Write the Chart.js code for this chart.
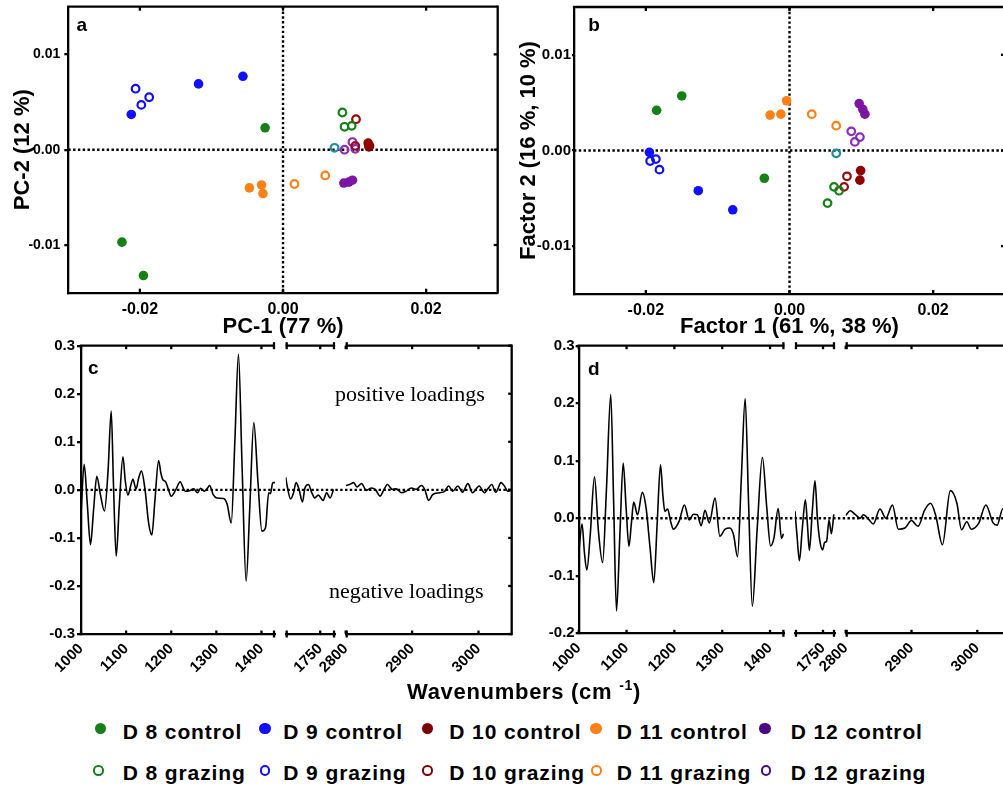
<!DOCTYPE html>
<html><head><meta charset="utf-8">
<script src="https://cdn.jsdelivr.net/npm/chart.js@4.4.1/dist/chart.umd.min.js"></script>
<style>
html,body{margin:0;padding:0;background:#fff;overflow:hidden;}
#wrap{position:relative;width:1003px;height:788px;overflow:hidden;background:#fff;}
canvas{position:absolute;}
.t{position:absolute;white-space:nowrap;line-height:1;color:#000;}
.letter{font:bold 19px "Liberation Sans",Arial,sans-serif;}
.serif{font:22px "Liberation Serif","Times New Roman",serif;}
.xt{font:bold 22px "Liberation Sans",Arial,sans-serif;letter-spacing:0.7px;}
.leg{font:bold 21px "Liberation Sans",Arial,sans-serif;letter-spacing:0.9px;}
.mk{position:absolute;border-radius:50%;box-sizing:border-box;}
</style></head>
<body><div id="wrap">
<canvas id="ca" width="512" height="340" style="left:0;top:0"></canvas>
<canvas id="cb" width="520" height="340" style="left:510px;top:0"></canvas>
<canvas id="cc" width="522" height="358" style="left:0;top:330px"></canvas>
<canvas id="cd" width="510" height="358" style="left:510px;top:330px"></canvas>
<div class="t letter" style="left:76.5px;top:14px">a</div>
<div class="t letter" style="left:588.3px;top:14px">b</div>
<div class="t letter" style="left:88px;top:357px">c</div>
<div class="t letter" style="left:588px;top:358px">d</div>
<div class="t serif" style="left:335px;top:380.6px">positive loadings</div>
<div class="t serif" style="left:329px;top:578.3px">negative loadings</div>
<div class="t xt" style="left:407px;top:678.7px">Wavenumbers (cm <span style="font-size:14px;position:relative;top:-9px">-1</span>)</div>
<div id="legend"></div>
</div>
<script>
// ---------------- data ----------------
const groupNames = ['D 8 control','D 9 control','D 10 control','D 11 control','D 12 control',
                    'D 8 grazing','D 9 grazing','D 10 grazing','D 11 grazing','D 12 grazing'];

// Panel a: PCA scores [PC-1, PC-2]
const pcaD8Control  = [[-0.0025, 0.0023], [-0.0225, -0.0097], [-0.0195, -0.0132]];
const pcaD9Control  = [[-0.0056, 0.0077], [-0.0118, 0.0069], [-0.0212, 0.0037]];
const pcaD10Control = [[0.0119, 0.0007], [0.0120, 0.0003], [0.0121, 0.0004]];
const pcaD11Control = [[-0.0047, -0.0040], [-0.0030, -0.0037], [-0.0028, -0.0046]];
const pcaD12Control = [[0.0085, -0.0035], [0.0092, -0.0034], [0.0097, -0.0032]];
const pcaD8Grazing  = [[0.0083, 0.0039], [0.0086, 0.0024], [0.0096, 0.0025]];
const pcaD9Grazing  = [[-0.0206, 0.0064], [-0.0198, 0.0047], [-0.0187, 0.0055]];
const pcaD10Grazing = [[0.0102, 0.0032], [0.0101, 0.0004]];
const pcaD11Grazing = [[0.0016, -0.0036], [0.0059, -0.0027]];
const pcaD12Grazing = [[0.0097, 0.0008], [0.0086, 0.0000], [0.0101, 0.0001]];
const pcaOther      = [[0.0072, 0.0002]];

// Panel b: factor scores [Factor 1, Factor 2]
const faD8Control  = [[-0.0185, 0.0042], [-0.0150, 0.0057], [-0.0035, -0.0029]];
const faD9Control  = [[-0.0195, -0.0002], [-0.0127, -0.0042], [-0.0079, -0.0062]];
const faD10Control = [[0.0099, -0.0021], [0.0098, -0.0031]];
const faD11Control = [[-0.0027, 0.0037], [-0.0012, 0.0038], [-0.0004, 0.0052]];
const faD12Control = [[0.0097, 0.0049], [0.0102, 0.0043], [0.0105, 0.0038]];
const faD8Grazing  = [[0.0062, -0.0038], [0.0069, -0.0042], [0.0053, -0.0055]];
const faD9Grazing  = [[-0.0194, -0.0011], [-0.0186, -0.0009], [-0.0181, -0.0020]];
const faD10Grazing = [[0.0080, -0.0027], [0.0076, -0.0038]];
const faD11Grazing = [[0.0031, 0.0038], [0.0065, 0.0026]];
const faD12Grazing = [[0.0086, 0.0020], [0.0098, 0.0014], [0.0091, 0.0009]];
const faOther      = [[0.0065, -0.0003]];

// Panel c: PC-1 loadings, three wavenumber ranges
const wnC1 = [1000,1007,1014,1021,1028,1035,1043,1052,1060,1067,1072,1078,1085,1093,1098,1104,1110,1115,1122,1128,1134,1142,1150,1157,1164,1172,1177,1181,1188,1194,1200,1210,1220,1226,1231,1240,1250,1258,1265,1273,1280,1285,1293,1301,1316,1324,1333,1341,1349,1357,1366,1374,1383,1392,1401,1409,1416,1420,1425,1430];
const ldC1 = [-0.050,0.053,-0.030,-0.114,-0.040,0.028,-0.010,-0.044,0.040,0.164,0.010,-0.138,-0.030,0.069,0.020,-0.011,0.008,0.022,0.002,0.025,0.039,0.000,-0.070,-0.094,-0.020,0.061,0.035,0.022,0.016,0.000,-0.013,0.000,0.017,0.005,-0.003,-0.002,0.002,-0.006,0.003,-0.003,0.003,0.009,-0.010,-0.017,-0.018,-0.030,-0.069,0.100,0.282,0.050,-0.190,-0.040,0.140,0.020,-0.086,-0.079,-0.006,-0.008,0.015,0.015];
const wnC2 = [1680,1683,1690,1696,1701,1707,1714,1719,1726,1733,1739,1746,1756,1763,1770,1777];
const ldC2 = [0.026,0.008,-0.019,-0.006,0.015,0.001,-0.025,0.004,0.011,-0.006,-0.017,-0.011,-0.022,-0.006,-0.017,0.001];
const wnC3 = [2800,2806,2812,2817,2824,2831,2839,2845,2852,2856,2863,2870,2876,2884,2891,2899,2906,2914,2919,2925,2931,2941,2949,2955,2961,2969,2976,2984,2991,3001,3009,3014,3020,3026,3034,3039,3044,3049];
const ldC3 = [0.009,0.011,0.015,0.006,0.013,-0.001,0.004,0.000,-0.013,-0.004,0.011,0.001,0.002,-0.006,-0.003,0.004,0.001,0.009,0.001,-0.022,-0.010,-0.006,-0.003,0.008,-0.003,0.008,-0.005,0.013,-0.006,0.008,-0.006,0.002,0.011,-0.005,0.015,0.008,-0.003,-0.001];

// Panel d: Factor 1 loadings
const wnD1 = [1000,1007,1012,1017,1024,1033,1041,1050,1058,1067,1073,1079,1086,1093,1099,1105,1110,1115,1123,1133,1141,1149,1157,1164,1171,1176,1180,1186,1192,1198,1210,1221,1231,1240,1248,1256,1264,1273,1285,1295,1306,1316,1324,1332,1340,1348,1355,1363,1373,1384,1393,1401,1408,1417,1424,1428];
const ldD1 = [-0.061,-0.010,-0.060,-0.090,-0.030,0.072,-0.020,-0.077,0.050,0.215,0.030,-0.161,-0.030,0.096,0.020,-0.049,-0.010,0.028,0.006,0.045,0.017,-0.050,-0.112,-0.010,0.093,0.040,0.012,0.016,-0.005,-0.019,-0.005,0.023,-0.003,0.007,0.006,-0.013,0.014,-0.008,0.035,-0.031,-0.019,-0.017,-0.030,-0.067,0.070,0.208,0.030,-0.153,-0.020,0.106,0.020,-0.048,-0.035,0.017,-0.035,-0.027];
const wnD2 = [1680,1685,1691,1698,1706,1711,1716,1723,1730,1736,1742,1749,1754,1759,1765,1771,1777];
const ldD2 = [0.012,-0.030,-0.074,-0.020,0.032,-0.010,-0.056,0.010,0.065,0.000,-0.039,-0.055,-0.042,-0.040,-0.003,-0.027,0.007];
const wnD3 = [2800,2807,2814,2822,2827,2835,2842,2852,2861,2871,2880,2890,2900,2910,2920,2929,2937,2947,2959,2969,2976,2984,2991,3002,3013,3024,3030,3039,3048];
const ldD3 = [0.005,0.013,0.007,0.000,0.006,-0.002,-0.010,0.016,0.000,0.023,-0.019,-0.017,-0.004,-0.014,0.014,0.026,0.004,-0.046,0.048,0.026,-0.020,-0.006,-0.019,-0.009,0.023,-0.008,-0.012,0.017,0.010];

// tick values
const scoreTicksX = [-0.02, 0, 0.02];
const scoreTicksY = [-0.01, 0, 0.01];
const loadTicksC = [-0.3, -0.2, -0.1, 0, 0.1, 0.2, 0.3];
const loadTicksD = [-0.2, -0.1, 0, 0.1, 0.2, 0.3];
const seg1Ticks = [1000, 1100, 1200, 1300, 1400];
const seg2Ticks = [1750];
const seg3Ticks = [2800, 2900, 3000];
const seg1Range = [1000, 1430], seg2Range = [1680, 1780], seg3Range = [2800, 3050];

// ---------------- styles ----------------
const FONT = '"Liberation Sans", Arial, sans-serif';
const plotColors = ['#158015', '#1010ff', '#8e0000', '#ff8016', '#7c16a3'];
const plotColorsOpen = ['#158015', '#1010ff', '#9a0a0a', '#ff8016', '#8a2cbc'];
const legendColors = ['#158015', '#1010ff', '#7a0000', '#ff8016', '#4a0a84'];
const otherColor = '#1c8aa8';
const LW = 2.3;

function pairs(arr) { return arr.map(p => ({x: p[0], y: p[1]})); }
function zip(xs, ys) { return xs.map((x, i) => ({x: x, y: ys[i]})); }

function scatterSets(ctrl, graz, other) {
  const sets = [];
  graz.forEach((g, i) => sets.push({label: groupNames[5 + i], data: pairs(g), pointRadius: 3.8, pointBorderWidth: 2.2,
    pointBackgroundColor: 'rgba(0,0,0,0)', pointBorderColor: plotColorsOpen[i], showLine: false}));
  sets.push({label: 'other', data: pairs(other), pointRadius: 3.8, pointBorderWidth: 2.2,
    pointBackgroundColor: 'rgba(0,0,0,0)', pointBorderColor: otherColor, showLine: false});
  ctrl.forEach((g, i) => sets.push({label: groupNames[i], data: pairs(g), pointRadius: 4.8, pointBorderWidth: 0,
    pointBackgroundColor: plotColors[i], pointBorderColor: plotColors[i], showLine: false}));
  return sets;
}

const fixedTicks = vals => s => { s.ticks = vals.map(v => ({value: v})); };
const fitW = w => s => { s.width = w; s.paddingTop = 0; s.paddingBottom = 0; };
const fitH = h => s => { s.height = h; s.paddingLeft = 0; s.paddingRight = 0; };

const zeroPlugin = {
  id: 'zeroLines',
  beforeDatasetsDraw(chart, args, o) {
    const {ctx, chartArea: a} = chart;
    const ys = chart.scales.y;
    ctx.save();
    ctx.strokeStyle = '#000'; ctx.lineWidth = 2.4; ctx.setLineDash([2.4, 2.4]);
    const py = ys.getPixelForValue(0);
    ctx.beginPath(); ctx.moveTo(a.left, py); ctx.lineTo(a.right, py); ctx.stroke();
    if (o.vertical) {
      const px = chart.scales.x.getPixelForValue(0);
      ctx.beginPath(); ctx.moveTo(px, a.top); ctx.lineTo(px, a.bottom); ctx.stroke();
    }
    ctx.restore();
  }
};

const framePlugin = {
  id: 'frame',
  afterDatasetsDraw(chart, args, o) {
    const {ctx, chartArea: a} = chart;
    ctx.save();
    ctx.strokeStyle = '#000'; ctx.lineWidth = LW; ctx.lineCap = 'butt';
    const seg = (x1, y1, x2, y2) => { ctx.beginPath(); ctx.moveTo(x1, y1); ctx.lineTo(x2, y2); ctx.stroke(); };
    seg(a.right, a.top - LW / 2, a.right, a.bottom + LW / 2);
    const ys = chart.scales.y;
    ys.ticks.forEach(t => { const py = ys.getPixelForValue(t.value); seg(a.right - o.tick, py, a.right, py); });
    o.xIds.forEach((id, i) => {
      const s = chart.scales[id];
      seg(s.left - (i === 0 ? LW / 2 : 0), a.top, s.right, a.top);
      s.ticks.forEach(t => {
        const px = s.getPixelForValue(t.value);
        seg(px, a.top, px, a.top + o.tick);
        seg(px, a.bottom, px, a.bottom - o.tick);
      });
      if (o.breaks) {
        const ends = [];
        if (i > 0) ends.push(s.left + 1);
        if (i < o.xIds.length - 1) ends.push(s.right - 1);
        ends.forEach(px => { seg(px, a.top - o.bar, px, a.top + o.bar); seg(px, a.bottom - o.bar, px, a.bottom + o.bar); });
      }
    });
    ctx.restore();
  }
};

const axisBorder = {display: true, color: '#000', width: LW};
const yGrid = tl => ({display: true, drawOnChartArea: false, drawTicks: true, tickLength: tl, color: '#000', lineWidth: LW});
const noGrid = {display: false, drawTicks: false};
const tickFont = sz => ({family: FONT, weight: 'bold', size: sz});
const titleFont = {family: FONT, weight: 'bold', size: 22};

function scoreChart(id, sets, o) {
  return new Chart(document.getElementById(id), {
    type: 'scatter',
    data: {datasets: sets},
    plugins: [zeroPlugin, framePlugin],
    options: {
      responsive: false, animation: false, devicePixelRatio: 1,
      layout: {autoPadding: false, padding: {left: 0, top: o.top, right: o.right, bottom: 0}},
      plugins: {legend: {display: false}, tooltip: {enabled: false},
        zeroLines: {vertical: true}, frame: {xIds: ['x'], breaks: false, tick: 4}},
      scales: {
        x: {type: 'linear', position: 'bottom', min: -0.03, max: 0.03,
          afterBuildTicks: fixedTicks(scoreTicksX), afterFit: fitH(o.xh),
          border: axisBorder, grid: noGrid,
          ticks: {color: '#000', font: tickFont(16), padding: 7, maxRotation: 0, autoSkip: false, callback: v => v.toFixed(2)},
          title: {display: true, text: o.xTitle, color: '#000', font: titleFont, padding: {top: 0, bottom: 0}}},
        y: {type: 'linear', position: 'left', min: -0.015, max: 0.015,
          afterBuildTicks: fixedTicks(scoreTicksY), afterFit: fitW(o.yw),
          border: axisBorder, grid: yGrid(o.ytl),
          ticks: {color: '#000', font: tickFont(o.yfs), padding: o.ypad, autoSkip: false, callback: v => v.toFixed(2)},
          title: {display: true, text: o.yTitle, color: '#000', font: titleFont, padding: {top: o.ytp, bottom: 0}}}
      }
    }
  });
}

scoreChart('ca', scatterSets(
  [pcaD8Control, pcaD9Control, pcaD10Control, pcaD11Control, pcaD12Control],
  [pcaD8Grazing, pcaD9Grazing, pcaD10Grazing, pcaD11Grazing, pcaD12Grazing], pcaOther),
  {top: 6.7, right: 14.3, xh: 47.3, yw: 68.3, ytl: 4, ypad: 4, yfs: 14, ytp: 10, xTitle: 'PC-1 (77 %)', yTitle: 'PC-2 (12 %)'});

scoreChart('cb', scatterSets(
  [faD8Control, faD9Control, faD10Control, faD11Control, faD12Control],
  [faD8Grazing, faD9Grazing, faD10Grazing, faD11Grazing, faD12Grazing], faOther),
  {top: 7, right: 25, xh: 46, yw: 64, ytl: 2, ypad: 1, yfs: 15, ytp: 5.4, xTitle: 'Factor 1 (61 %, 38 %)', yTitle: 'Factor 2 (16 %, 10 %)'});

function loadingChart(id, segs, o) {
  const xAxis = (range, ticks, w) => ({type: 'linear', axis: 'x', position: 'bottom', stack: 'wn', stackWeight: w,
    min: range[0], max: range[1], afterBuildTicks: fixedTicks(ticks), afterFit: fitH(o.xh),
    border: axisBorder, grid: noGrid,
    ticks: {color: '#000', font: tickFont(15), padding: 6, minRotation: 45, maxRotation: 45, autoSkip: false, callback: v => String(v)}});
  const gapAxis = w => ({type: 'linear', axis: 'x', position: 'bottom', stack: 'wn', stackWeight: w, min: 0, max: 1,
    afterFit: fitH(o.xh), border: {display: false}, grid: noGrid, ticks: {display: false}});
  return new Chart(document.getElementById(id), {
    type: 'line',
    data: {datasets: segs.map((s, i) => ({data: zip(s[0], s[1]), xAxisID: 'x' + (i + 1), yAxisID: 'y',
      borderColor: '#000', borderWidth: 1.6, pointRadius: 0, cubicInterpolationMode: 'monotone', fill: false}))},
    plugins: [zeroPlugin, framePlugin],
    options: {
      responsive: false, animation: false, devicePixelRatio: 1,
      layout: {autoPadding: false, padding: {left: 0, top: o.top, right: o.right, bottom: 0}},
      plugins: {legend: {display: false}, tooltip: {enabled: false},
        zeroLines: {vertical: false}, frame: {xIds: ['x1', 'x2', 'x3'], breaks: true, tick: 3.5, bar: 3.5}},
      scales: {
        y: {type: 'linear', position: 'left', min: o.ymin, max: o.ymax,
          afterBuildTicks: fixedTicks(o.yTicks), afterFit: fitW(o.yw),
          border: axisBorder, grid: yGrid(o.ytl),
          ticks: {color: '#000', font: tickFont(15), padding: o.ypad, autoSkip: false, callback: v => v.toFixed(1)}},
        x1: xAxis(seg1Range, seg1Ticks, o.w[0]),
        g1: gapAxis(o.w[1]),
        x2: xAxis(seg2Range, seg2Ticks, o.w[2]),
        g2: gapAxis(o.w[3]),
        x3: xAxis(seg3Range, seg3Ticks, o.w[4])
      }
    }
  });
}

loadingChart('cc', [[wnC1, ldC1], [wnC2, ldC2], [wnC3, ldC3]],
  {top: 15.7, right: 10.3, xh: 54, yw: 81, ytl: 4, ypad: 2, ymin: -0.3, ymax: 0.3, yTicks: loadTicksC,
   w: [194, 10.7, 49.3, 10.7, 166]});
loadingChart('cd', [[wnD1, ldD1], [wnD2, ldD2], [wnD3, ldD3]],
  {top: 15.7, right: 9.8, xh: 54.7, yw: 68.7, ytl: 3, ypad: 1, ymin: -0.2, ymax: 0.3, yTicks: loadTicksD,
   w: [205.7, 10.6, 40, 10.7, 164.5]});

// ---------------- legend (HTML) ----------------
const legMarkerX = [[100.5, 265, 427.3, 596, 765], [98.3, 265, 427.3, 596.7, 766]];
const legTextX = [122.7, 283.3, 449.3, 616.7, 790.7];
const legRowCenter = [728.7, 770.5];
const legRowTextTop = [719.5, 760.5];
const leg = document.getElementById('legend');
groupNames.forEach((name, k) => {
  const row = k < 5 ? 0 : 1, col = k % 5;
  const m = document.createElement('div');
  m.className = 'mk';
  const d = row === 0 ? 11.5 : 10.5;
  m.style.width = d + 'px'; m.style.height = d + 'px';
  m.style.left = (legMarkerX[row][col] - d / 2) + 'px';
  m.style.top = (legRowCenter[row] - d / 2) + 'px';
  if (row === 0) m.style.background = legendColors[col];
  else m.style.border = '2.6px solid ' + legendColors[col];
  leg.appendChild(m);
  const t = document.createElement('div');
  t.className = 't leg';
  t.style.left = legTextX[col] + 'px';
  t.style.top = legRowTextTop[row] + 'px';
  t.textContent = name;
  leg.appendChild(t);
});
</script>
</body></html>
